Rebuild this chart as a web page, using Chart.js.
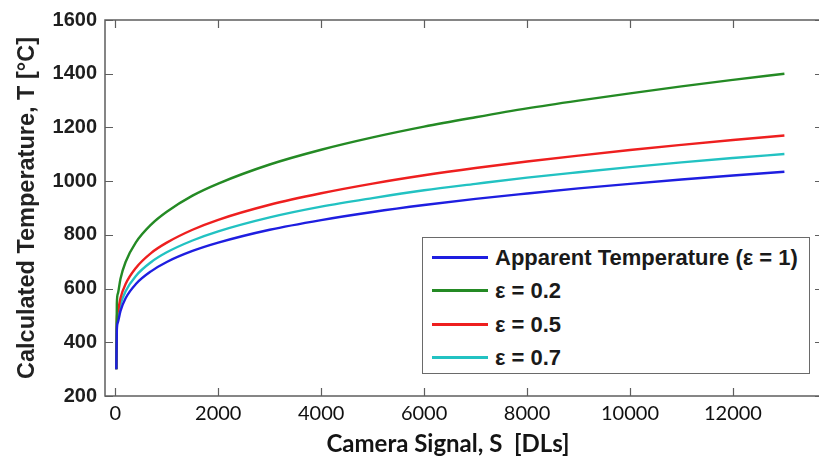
<!DOCTYPE html>
<html><head><meta charset="utf-8">
<script src="https://cdn.jsdelivr.net/npm/chart.js@4"></script>
<style>
html,body{margin:0;padding:0;background:#fff;overflow:hidden;width:819px;height:464px;}
#wrap{position:relative;width:830px;height:464px;}
canvas{position:absolute;left:0;top:0;}
#legend{position:absolute;left:422px;top:237px;width:388px;height:137px;box-sizing:border-box;border:1.5px solid #6a6a6a;background:#fff;font:bold 22px "Liberation Sans",Arial,sans-serif;color:#1a1a1a;}
.item{position:absolute;left:0;width:100%;height:30px;}
.swatch{position:absolute;left:9px;top:13px;width:56px;height:3px;}
.lbl{position:absolute;left:72px;top:0;white-space:nowrap;line-height:30px;}
</style></head>
<body>
<div id="wrap"><canvas id="c" width="830" height="464"></canvas><div id="legend"></div></div>
<script>
// ---- data ----
const signal = [20, 30, 50, 100, 200, 400, 700, 1000, 1500, 2000, 3000, 4000, 5000, 6000, 7000, 8000, 9000, 10000, 11000, 12000, 13000];
const apparent = [300, 446, 474, 516, 564, 617, 665, 699, 740, 771, 819, 855, 885, 911, 934, 954, 973, 990, 1006, 1021, 1035];
const eps02 = [300, 544, 581, 636, 699, 772, 839, 886, 946, 991, 1062, 1117, 1163, 1203, 1238, 1271, 1300, 1327, 1353, 1377, 1400];
const eps05 = [300, 485, 516, 564, 617, 677, 733, 771, 819, 856, 912, 955, 991, 1022, 1049, 1073, 1095, 1116, 1135, 1153, 1170];
const eps07 = [300, 465, 495, 540, 590, 647, 699, 735, 779, 813, 865, 905, 937, 966, 990, 1013, 1033, 1052, 1070, 1086, 1101];
const seriesLabels = ['Apparent Temperature (\u03b5 = 1)', '\u03b5 = 0.2', '\u03b5 = 0.5', '\u03b5 = 0.7'];
const xTicks = [0, 2000, 4000, 6000, 8000, 10000, 12000];
const yTicks = [200, 400, 600, 800, 1000, 1200, 1400, 1600];
const xTitle = 'Camera Signal, S  [DLs]';
const yTitle = 'Calculated Temperature, T [\u00b0C]';

const colors = ['#1e1ee0', '#248a24', '#ee1f1f', '#22c2c2'];
const allSeries = [apparent, eps02, eps05, eps07];

const datasets = allSeries.map((vals, i) => ({
  label: seriesLabels[i],
  data: signal.map((s, j) => ({x: s, y: vals[j]})),
  borderColor: colors[i],
  backgroundColor: colors[i],
  borderWidth: 2.4,
  pointRadius: 0,
  cubicInterpolationMode: 'monotone',
  fill: false
}));

const framePlugin = {
  id: 'frame',
  afterDatasetsDraw(chart) {
    const {ctx, chartArea: a, scales} = chart;
    ctx.save();
    ctx.strokeStyle = '#5e5e5e';
    ctx.lineWidth = 1.5;
    ctx.strokeRect(a.left, a.top, a.right - a.left, a.bottom - a.top);
    ctx.beginPath();
    const L = 8;
    xTicks.forEach(v => {
      const p = Math.round(scales.x.getPixelForValue(v)) + 0.5;
      ctx.moveTo(p, a.bottom); ctx.lineTo(p, a.bottom - L);
      ctx.moveTo(p, a.top); ctx.lineTo(p, a.top + L);
    });
    yTicks.forEach(v => {
      const p = Math.round(scales.y.getPixelForValue(v)) + 0.5;
      ctx.moveTo(a.left, p); ctx.lineTo(a.left + L, p);
      ctx.moveTo(a.right, p); ctx.lineTo(a.right - L, p);
    });
    ctx.lineWidth = 1.2;
    ctx.stroke();
    ctx.restore();
  },
  afterDraw(chart) {
    const {ctx, chartArea: a} = chart;
    ctx.save();
    ctx.fillStyle = '#141414';
    ctx.font = 'bold 24px Lato, "Open Sans", sans-serif';
    ctx.textAlign = 'center';
    ctx.textBaseline = 'alphabetic';
    ctx.fillText(xTitle, 448, 452);
    ctx.translate(28, (a.top + a.bottom) / 2);
    ctx.rotate(-Math.PI / 2);
    ctx.font = 'bold 23.5px "Liberation Sans", Arial, sans-serif';
    ctx.textBaseline = 'middle';
    ctx.fillStyle = '#222';
    ctx.fillText(yTitle, 0, 0);
    ctx.restore();
  }
};

new Chart(document.getElementById('c'), {
  type: 'line',
  data: {datasets},
  options: {
    responsive: false,
    animation: false,
    layout: {padding: {top: 18, right: 7, left: 0, bottom: 0}},
    plugins: {legend: {display: false}, tooltip: {enabled: false}},
    scales: {
      x: {
        type: 'linear', min: -200, max: 13750,
        afterBuildTicks(s) { s.ticks = xTicks.map(v => ({value: v})); },
        afterFit(s) { s.height = 68; },
        grid: {display: false, drawTicks: false},
        border: {display: false},
        ticks: {padding: 6, color: '#101010', callback: v => String(v), font: {family: 'Lato, "Open Sans", sans-serif', size: 20}, maxRotation: 0, autoSkip: false}
      },
      y: {
        type: 'linear', min: 200, max: 1600,
        afterBuildTicks(s) { s.ticks = yTicks.map(v => ({value: v})); },
        afterFit(s) { s.width = 105; },
        grid: {display: false, drawTicks: false},
        border: {display: false},
        ticks: {padding: 8, color: '#1e1e1e', callback: v => String(v), font: {family: '"Liberation Sans", Arial, sans-serif', size: 20, weight: 'bold'}}
      }
    }
  },
  plugins: [framePlugin]
});

// legend as real text
const leg = document.getElementById('legend');
const rowCenters = [19.5, 53, 86.5, 120];
seriesLabels.forEach((t, i) => {
  const it = document.createElement('div');
  it.className = 'item';
  it.style.top = (rowCenters[i] - 15) + 'px';
  const sw = document.createElement('div');
  sw.className = 'swatch';
  sw.style.background = colors[i];
  const lb = document.createElement('div');
  lb.className = 'lbl';
  lb.textContent = t;
  it.appendChild(sw); it.appendChild(lb);
  leg.appendChild(it);
});
</script>
</body></html>
